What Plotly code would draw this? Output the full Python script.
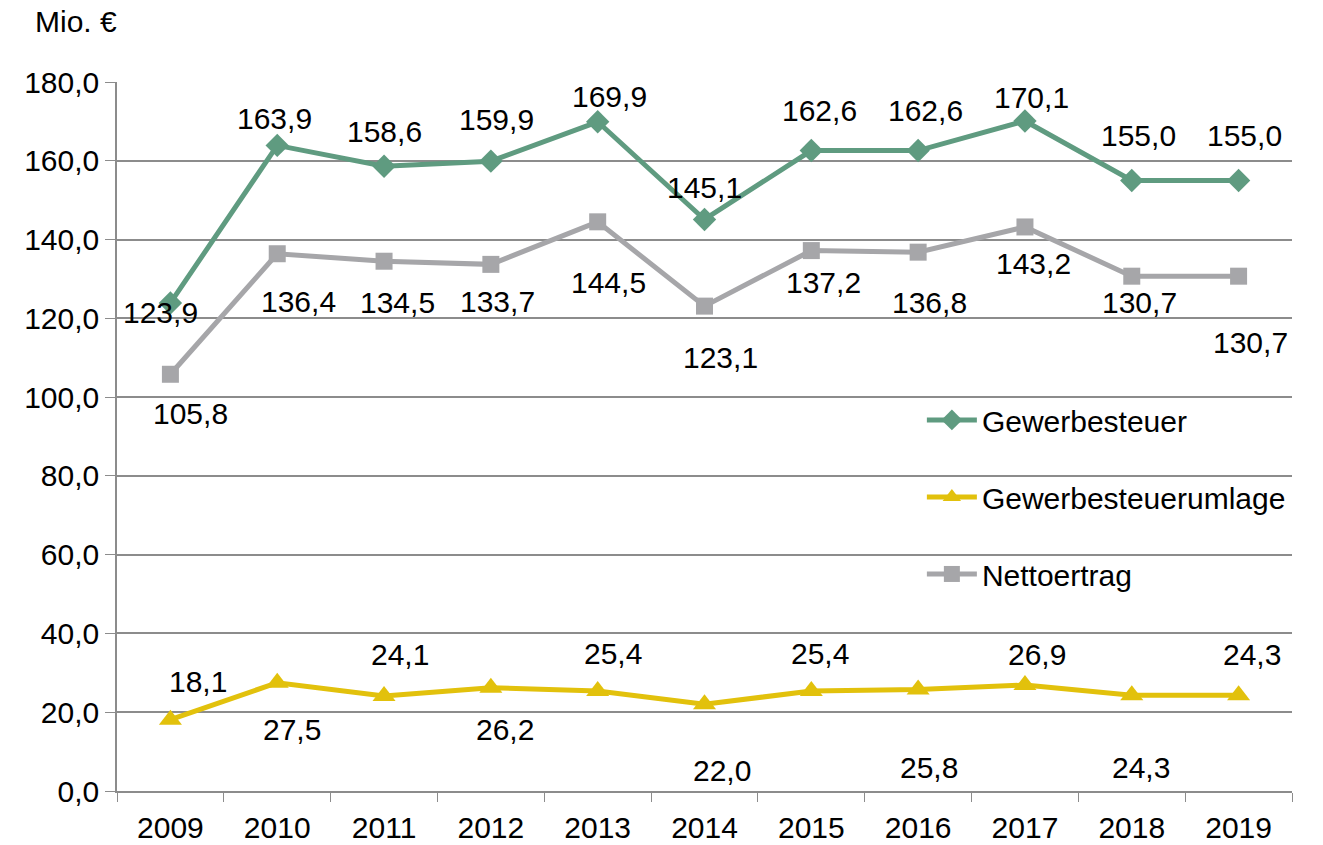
import plotly.graph_objects as go

years = ["2009", "2010", "2011", "2012", "2013", "2014", "2015", "2016", "2017", "2018", "2019"]
gewerbesteuer = [123.9, 163.9, 158.6, 159.9, 169.9, 145.1, 162.6, 162.6, 170.1, 155.0, 155.0]
umlage = [18.1, 27.5, 24.1, 26.2, 25.4, 22.0, 25.4, 25.8, 26.9, 24.3, 24.3]
netto = [105.8, 136.4, 134.5, 133.7, 144.5, 123.1, 137.2, 136.8, 143.2, 130.7, 130.7]

# label offsets in pixels (style)
gw_off = [(-10, -10), (-3, 27), (0, 35), (6, 42), (12, 25), (0, 32), (8, 40), (7, 40), (7, 24), (7, 45), (6, 45)]
ne_off = [(20, -39), (21, -48), (13, -41), (7, -37), (11, -61), (16, -51), (12, -32), (11, -50), (9, -37), (8, -26), (12, -66)]
um_off = [(28, 38), (15, -47), (16, 42), (14, -42), (15, 37), (17, -66), (9, 37), (11, -78), (12, 31), (9, -72), (13, 41)]

FONT = "Liberation Sans, Arial, sans-serif"
GREEN = "#5f9b80"
YELLOW = "#e2c10c"
GRAY = "#a6a6a9"
FS = 30

fig = go.Figure()
fig.add_trace(go.Scatter(x=years, y=gewerbesteuer, name="Gewerbesteuer", mode="lines+markers",
                         line=dict(color=GREEN, width=5), marker=dict(symbol="diamond", size=18, color=GREEN),
                         legendgroup="a"))
fig.add_trace(go.Scatter(x=years, y=umlage, name="Gewerbesteuerumlage", mode="lines+markers",
                         line=dict(color=YELLOW, width=5), marker=dict(symbol="triangle-up", size=20, color=YELLOW),
                         legendgroup="b"))
fig.add_trace(go.Scatter(x=years, y=netto, name="Nettoertrag", mode="lines+markers",
                         line=dict(color=GRAY, width=5), marker=dict(symbol="square", size=17, color=GRAY),
                         legendgroup="c"))

def fmt(v):
    return f"{v:.1f}".replace(".", ",")

for series, offs in ((gewerbesteuer, gw_off), (netto, ne_off), (umlage, um_off)):
    for i, (v, (dx, dy)) in enumerate(zip(series, offs)):
        fig.add_annotation(x=i, y=v, xref="x", yref="y", text=fmt(v), showarrow=False, xshift=dx, yshift=dy,
                           font=dict(family=FONT, size=FS, color="black"))

fig.add_annotation(xref="paper", yref="paper", x=-0.0715, y=1.085, xanchor="left", yanchor="middle",
                   text="Mio. €", showarrow=False, font=dict(family=FONT, size=FS, color="black"))

fig.update_layout(
    width=1323, height=845,
    margin=dict(l=117, r=31, t=82, b=54),
    paper_bgcolor="white", plot_bgcolor="white",
    separators=",.",
    font=dict(family=FONT, size=FS, color="black"),
    showlegend=True,
    legend=dict(x=0.685, y=0.56, xanchor="left", yanchor="top", bgcolor="rgba(0,0,0,0)",
                font=dict(family=FONT, size=FS, color="black"), tracegroupgap=35,
                itemwidth=50),
    xaxis=dict(type="category", range=[-0.5, 10.5], showgrid=False, showline=True, linecolor="#8c8c8c",
               linewidth=1.5, ticks="outside", tickson="boundaries", ticklen=9, tickcolor="#8c8c8c",
               tickfont=dict(family=FONT, size=FS), ticklabelstandoff=9, automargin=False),
    yaxis=dict(range=[0, 180], dtick=20, tickformat=".1f", showgrid=True, gridcolor="#8c8c8c", gridwidth=1.5,
               showline=True, linecolor="#8c8c8c", linewidth=1.5, ticks="outside", ticklen=10,
               tickcolor="#8c8c8c", tickfont=dict(family=FONT, size=FS), zeroline=False, automargin=False),
)

fig.write_html("out.html", config={"displayModeBar": False},
               post_script="document.body.style.margin='0';document.body.style.overflow='hidden';")
